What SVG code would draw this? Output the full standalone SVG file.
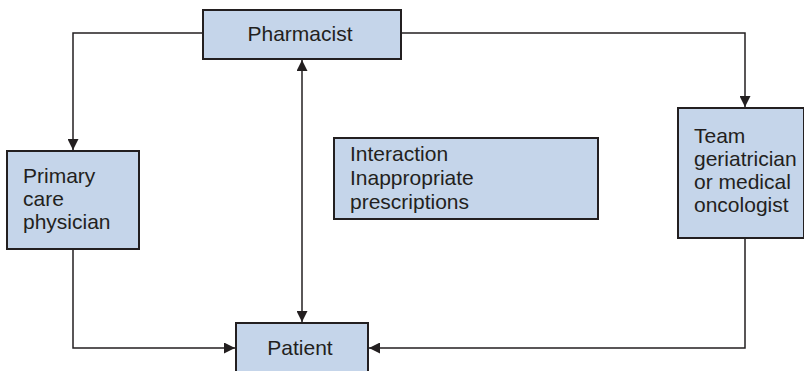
<svg xmlns="http://www.w3.org/2000/svg" width="804" height="371" viewBox="0 0 804 371">
  <style>
    .box { fill: #c5d5ea; stroke: #231f20; stroke-width: 2; }
    .lbl { font-family: "Liberation Sans", Arial, sans-serif; font-size: 21px; fill: #231f20; }
    .wire { fill: none; stroke: #231f20; stroke-width: 1.5; }
  </style>
  <defs>
    <marker id="arrow" viewBox="0 0 10 10" refX="10" refY="5" markerWidth="11" markerHeight="11" markerUnits="userSpaceOnUse" orient="auto-start-reverse">
      <path d="M0,0 L10,5 L0,10 z" fill="#231f20"/>
    </marker>
  </defs>
  <rect width="804" height="371" fill="#ffffff"/>

  <g id="connectors">
    <polyline class="wire" points="203,33 73,33 73,150" marker-end="url(#arrow)"/>
    <polyline class="wire" points="401,33 745,33 745,107" marker-end="url(#arrow)"/>
    <line class="wire" x1="302" y1="60" x2="302" y2="322" marker-start="url(#arrow)" marker-end="url(#arrow)"/>
    <polyline class="wire" points="73,249 73,348 235,348" marker-end="url(#arrow)"/>
    <polyline class="wire" points="745,238 745,348 369,348" marker-end="url(#arrow)"/>
  </g>

  <g id="pharmacist">
    <rect class="box" x="203" y="10" width="198" height="49"/>
    <text class="lbl" x="300" y="41" text-anchor="middle">Pharmacist</text>
  </g>

  <g id="primary-care">
    <rect class="box" x="7" y="151" width="132" height="98"/>
    <text class="lbl" x="23" y="183">Primary</text>
    <text class="lbl" x="23" y="206">care</text>
    <text class="lbl" x="23" y="229">physician</text>
  </g>

  <g id="team">
    <rect class="box" x="678" y="108" width="126" height="130"/>
    <text class="lbl" x="694" y="143">Team</text>
    <text class="lbl" x="694" y="166">geriatrician</text>
    <text class="lbl" x="694" y="189">or medical</text>
    <text class="lbl" x="694" y="212">oncologist</text>
  </g>

  <g id="issues">
    <rect class="box" x="334" y="138" width="264" height="81"/>
    <text class="lbl" x="350" y="161">Interaction</text>
    <text class="lbl" x="350" y="185">Inappropriate</text>
    <text class="lbl" x="350" y="209">prescriptions</text>
  </g>

  <g id="patient">
    <rect class="box" x="236" y="323" width="132" height="60"/>
    <text class="lbl" x="300" y="355" text-anchor="middle">Patient</text>
  </g>
</svg>
